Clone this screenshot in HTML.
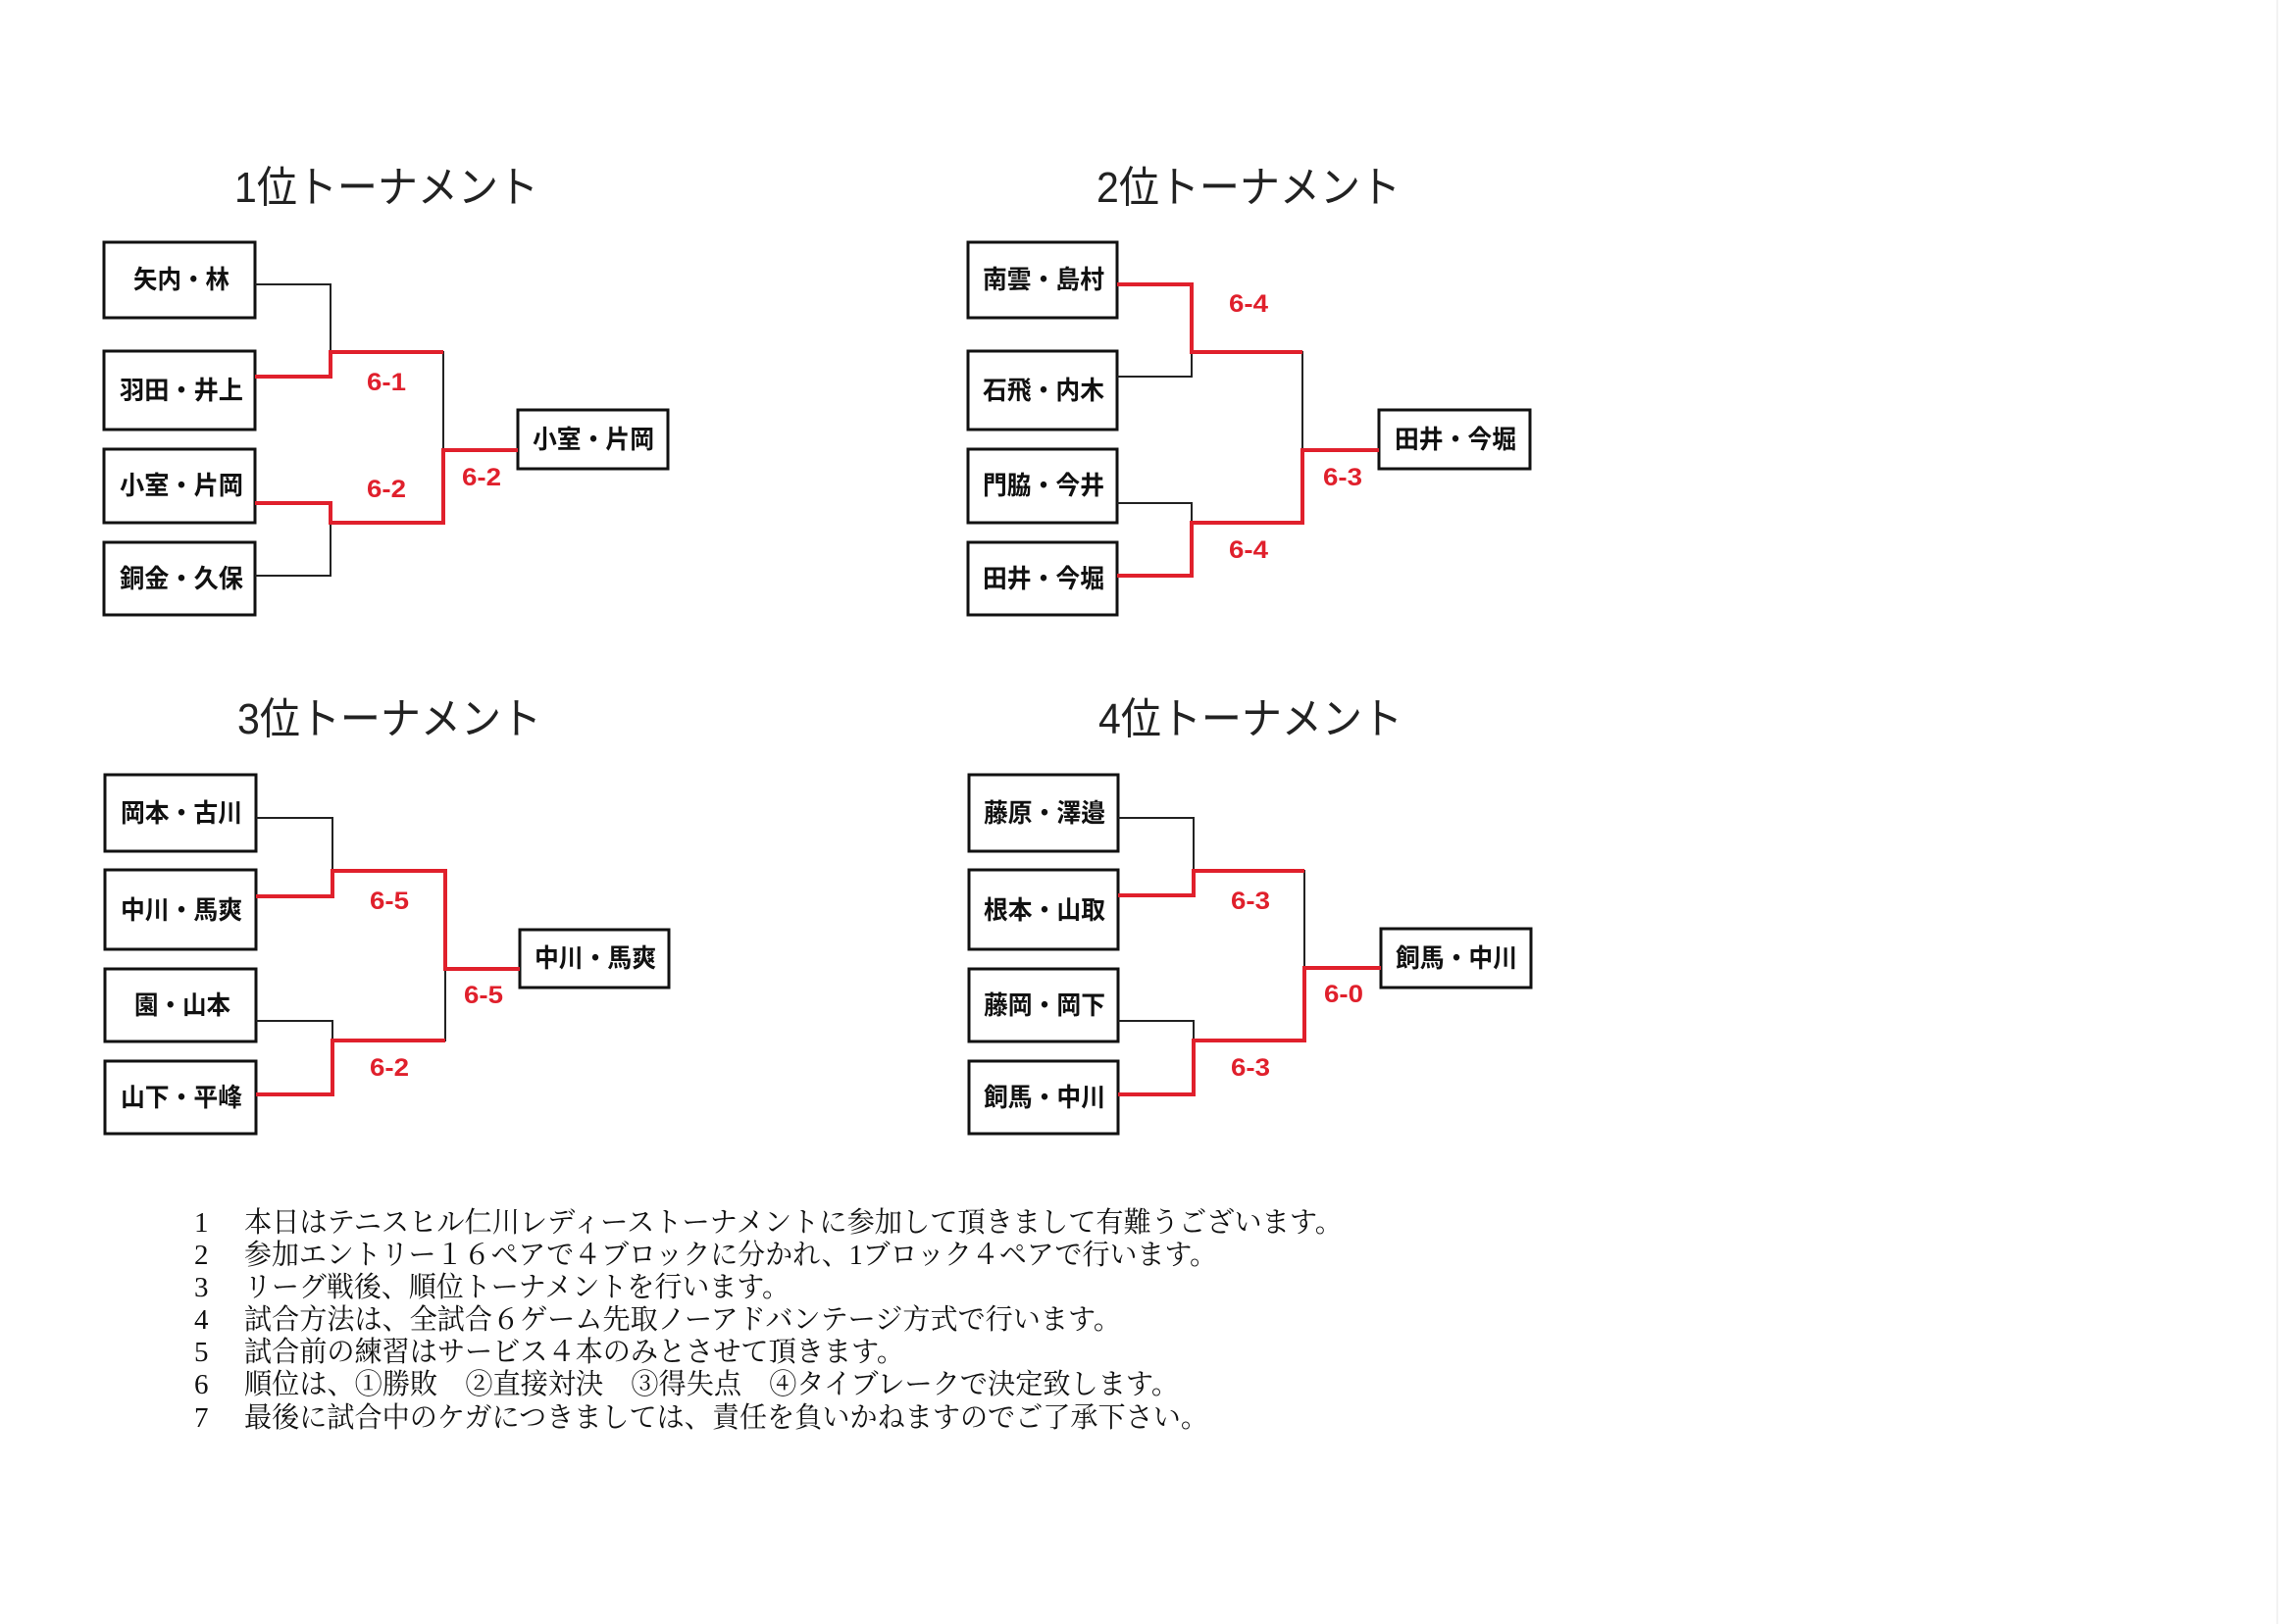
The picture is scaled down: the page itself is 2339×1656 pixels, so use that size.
<!DOCTYPE html>
<html><head><meta charset="utf-8"><style>
html,body{margin:0;padding:0;background:#fff;}
svg{display:block;}
.t{font-family:"Liberation Sans","Noto Sans CJK JP",sans-serif;font-size:44px;fill:#222;}
.b{font-family:"Liberation Sans","Noto Sans CJK JP",sans-serif;font-size:26px;font-weight:bold;fill:#111;}
.s{font-family:"Liberation Sans",sans-serif;font-size:25px;font-weight:bold;fill:#e0202c;}
.n{font-family:"Liberation Serif","Noto Serif CJK SC",serif;font-size:29px;fill:#111;}
</style></head><body>
<svg width="2339" height="1656" viewBox="0 0 2339 1656" xmlns="http://www.w3.org/2000/svg">
<rect width="2339" height="1656" fill="#fff"/>
<line x1="2322" y1="0" x2="2322" y2="1656" stroke="#e4e4e4" stroke-width="1"/>
<g fill="#fff" stroke="#111" stroke-width="3">
<rect x="106" y="247" width="154" height="77"/><rect x="106" y="358" width="154" height="80"/><rect x="106" y="458" width="154" height="75"/><rect x="106" y="553" width="154" height="74"/><rect x="528" y="418" width="153" height="60"/>
<rect x="987" y="247" width="152" height="77"/><rect x="987" y="358" width="152" height="80"/><rect x="987" y="458" width="152" height="75"/><rect x="987" y="553" width="152" height="74"/><rect x="1406" y="418" width="154" height="60"/>
<rect x="107" y="790" width="154" height="78"/><rect x="107" y="887" width="154" height="81"/><rect x="107" y="988" width="154" height="74"/><rect x="107" y="1082" width="154" height="74"/><rect x="530" y="948" width="152" height="59"/>
<rect x="988" y="790" width="152" height="78"/><rect x="988" y="887" width="152" height="81"/><rect x="988" y="988" width="152" height="74"/><rect x="988" y="1082" width="152" height="74"/><rect x="1408" y="947" width="153" height="60"/>
</g>
<g fill="none" stroke="#222" stroke-width="2">
<path d="M260 290H337V384H260 M260 513H337V587H260 M337 359H452V533H337 M452 459H528"/>
<path d="M1139 290H1215V384H1139 M1139 513H1215V587H1139 M1215 359H1328V533H1215 M1328 459H1406"/>
<path d="M261 834H339V914H261 M261 1041H339V1116H261 M339 888H454V1061H339 M454 988H530"/>
<path d="M1140 834H1217V913H1140 M1140 1041H1217V1116H1140 M1217 888H1330V1061H1217 M1330 987H1408"/>
</g>
<g fill="none" stroke="#e0202c" stroke-width="4">
<path d="M260 384H337V359H452"/><path d="M260 513H337V533H452V459H528"/>
<path d="M1139 290H1215V359H1328"/><path d="M1139 587H1215V533H1328V459H1406"/>
<path d="M261 914H339V888H454V988H530"/><path d="M261 1116H339V1061H454"/>
<path d="M1140 913H1217V888H1330"/><path d="M1140 1116H1217V1061H1330V987H1408"/>
</g>
<g class="t">
<text x="239" y="206" textLength="310" lengthAdjust="spacingAndGlyphs">1位トーナメント</text>
<text x="1118" y="206" textLength="310" lengthAdjust="spacingAndGlyphs">2位トーナメント</text>
<text x="242" y="748" textLength="310" lengthAdjust="spacingAndGlyphs">3位トーナメント</text>
<text x="1120" y="748" textLength="310" lengthAdjust="spacingAndGlyphs">4位トーナメント</text>
</g>
<g class="b">
<text x="136" y="294" textLength="98" lengthAdjust="spacingAndGlyphs">矢内・林</text><text x="122" y="407" textLength="126" lengthAdjust="spacingAndGlyphs">羽田・井上</text><text x="122" y="504" textLength="126" lengthAdjust="spacingAndGlyphs">小室・片岡</text><text x="122" y="599" textLength="126" lengthAdjust="spacingAndGlyphs">銅金・久保</text><text x="543" y="457" textLength="124" lengthAdjust="spacingAndGlyphs">小室・片岡</text>
<text x="1002" y="294" textLength="124" lengthAdjust="spacingAndGlyphs">南雲・島村</text><text x="1002" y="407" textLength="124" lengthAdjust="spacingAndGlyphs">石飛・内木</text><text x="1002" y="504" textLength="124" lengthAdjust="spacingAndGlyphs">門脇・今井</text><text x="1002" y="599" textLength="124" lengthAdjust="spacingAndGlyphs">田井・今堀</text><text x="1422" y="457" textLength="124" lengthAdjust="spacingAndGlyphs">田井・今堀</text>
<text x="123" y="838" textLength="124" lengthAdjust="spacingAndGlyphs">岡本・古川</text><text x="123" y="937" textLength="124" lengthAdjust="spacingAndGlyphs">中川・馬爽</text><text x="137" y="1034" textLength="98" lengthAdjust="spacingAndGlyphs">園・山本</text><text x="123" y="1128" textLength="124" lengthAdjust="spacingAndGlyphs">山下・平峰</text><text x="545" y="986" textLength="124" lengthAdjust="spacingAndGlyphs">中川・馬爽</text>
<text x="1003" y="838" textLength="124" lengthAdjust="spacingAndGlyphs">藤原・澤邉</text><text x="1003" y="937" textLength="124" lengthAdjust="spacingAndGlyphs">根本・山取</text><text x="1003" y="1034" textLength="124" lengthAdjust="spacingAndGlyphs">藤岡・岡下</text><text x="1003" y="1128" textLength="124" lengthAdjust="spacingAndGlyphs">飼馬・中川</text><text x="1423" y="986" textLength="124" lengthAdjust="spacingAndGlyphs">飼馬・中川</text>
</g>
<g class="s">
<text x="374" y="398" textLength="40" lengthAdjust="spacingAndGlyphs">6-1</text><text x="374" y="507" textLength="40" lengthAdjust="spacingAndGlyphs">6-2</text><text x="471" y="495" textLength="40" lengthAdjust="spacingAndGlyphs">6-2</text>
<text x="1253" y="318" textLength="40" lengthAdjust="spacingAndGlyphs">6-4</text><text x="1253" y="569" textLength="40" lengthAdjust="spacingAndGlyphs">6-4</text><text x="1349" y="495" textLength="40" lengthAdjust="spacingAndGlyphs">6-3</text>
<text x="377" y="927" textLength="40" lengthAdjust="spacingAndGlyphs">6-5</text><text x="377" y="1097" textLength="40" lengthAdjust="spacingAndGlyphs">6-2</text><text x="473" y="1023" textLength="40" lengthAdjust="spacingAndGlyphs">6-5</text>
<text x="1255" y="927" textLength="40" lengthAdjust="spacingAndGlyphs">6-3</text><text x="1255" y="1097" textLength="40" lengthAdjust="spacingAndGlyphs">6-3</text><text x="1350" y="1022" textLength="40" lengthAdjust="spacingAndGlyphs">6-0</text>
</g>
<g class="n">
<text x="198" y="1256">1</text><text x="249" y="1256" textLength="1120" lengthAdjust="spacingAndGlyphs">本日はテニスヒル仁川レディーストーナメントに参加して頂きまして有難うございます。</text>
<text x="198" y="1289">2</text><text x="249" y="1289" textLength="992" lengthAdjust="spacingAndGlyphs">参加エントリー１６ペアで４ブロックに分かれ、1ブロック４ペアで行います。</text>
<text x="198" y="1322">3</text><text x="249" y="1322" textLength="556" lengthAdjust="spacingAndGlyphs">リーグ戦後、順位トーナメントを行います。</text>
<text x="198" y="1355">4</text><text x="249" y="1355" textLength="894" lengthAdjust="spacingAndGlyphs">試合方法は、全試合６ゲーム先取ノーアドバンテージ方式で行います。</text>
<text x="198" y="1388">5</text><text x="249" y="1388" textLength="673" lengthAdjust="spacingAndGlyphs">試合前の練習はサービス４本のみとさせて頂きます。</text>
<text x="198" y="1421">6</text><text x="249" y="1421" textLength="953" lengthAdjust="spacingAndGlyphs">順位は、①勝敗　②直接対決　③得失点　④タイブレークで決定致します。</text>
<text x="198" y="1455">7</text><text x="249" y="1455" textLength="983" lengthAdjust="spacingAndGlyphs">最後に試合中のケガにつきましては、責任を負いかねますのでご了承下さい。</text>
</g>
</svg>
</body></html>
